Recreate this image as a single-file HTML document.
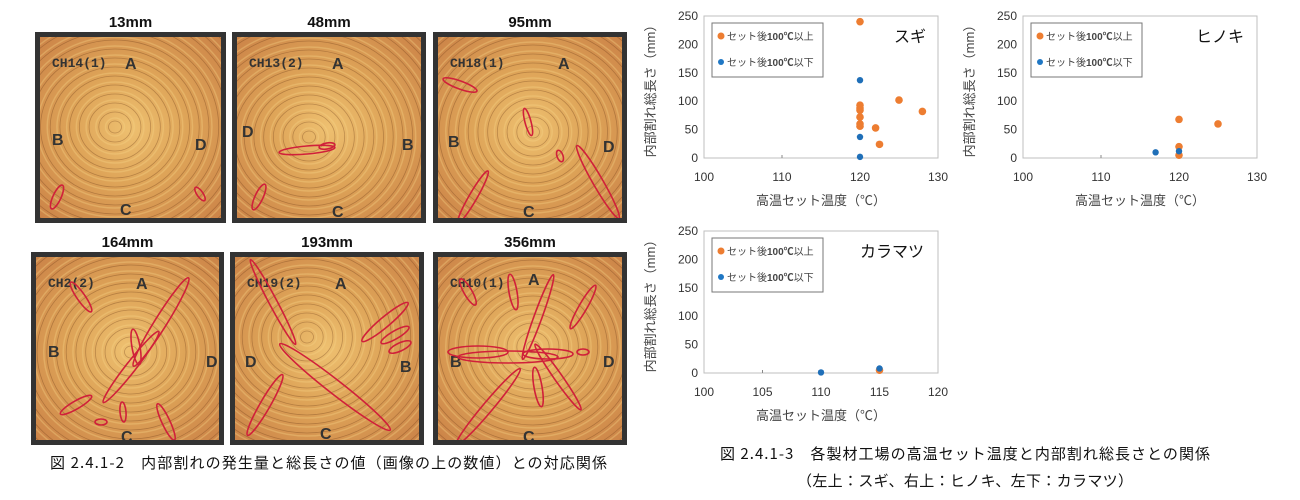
<!DOCTYPE html>
<html><head><meta charset="utf-8"><style>
html,body{margin:0;background:#fff;width:1300px;height:500px;overflow:hidden;font-family:"Liberation Sans","Noto Sans CJK JP",sans-serif}
svg{display:block}
</style></head><body>
<svg id="s" width="1300" height="500" viewBox="0 0 1300 500" xmlns="http://www.w3.org/2000/svg">
<defs>
<radialGradient id="wood" cx="50%" cy="50%" r="70%">
<stop offset="0" stop-color="#eec070"/><stop offset="0.45" stop-color="#dea458"/><stop offset="1" stop-color="#cc8448"/>
</radialGradient>
</defs>
<g id="g"></g>
<text x="50" y="468" font-size="15" textLength="557" lengthAdjust="spacing" fill="#111" font-family="Noto Sans CJK JP,sans-serif">図 2.4.1-2　内部割れの発生量と総長さの値（画像の上の数値）との対応関係</text>
<text x="720" y="459" font-size="15" textLength="490" lengthAdjust="spacing" fill="#111" font-family="Noto Sans CJK JP,sans-serif">図 2.4.1-3　各製材工場の高温セット温度と内部割れ総長さとの関係</text>
<text x="797" y="486" font-size="15" textLength="336" lengthAdjust="spacing" fill="#111" font-family="Noto Sans CJK JP,sans-serif">（左上：スギ、右上：ヒノキ、左下：カラマツ）</text>
</svg>
<script>
var g=document.getElementById('g'),h='';
function panel(x,y,w,h2,lab,cx,cy,code,letters,cracks){
 h+='<text x="'+(x+w/2)+'" y="'+(y-5)+'" font-size="15" font-weight="bold" text-anchor="middle" fill="#111">'+lab+'</text>';
 h+='<rect x="'+x+'" y="'+y+'" width="'+w+'" height="'+h2+'" fill="#333"/>';
 var ix=x+5,iy=y+5,iw=w-10,ih=h2-10;
 h+='<svg x="'+ix+'" y="'+iy+'" width="'+iw+'" height="'+ih+'"><rect width="'+iw+'" height="'+ih+'" fill="url(#wood)"/>';
 for(var r=6;r<260;r+=9){h+='<ellipse cx="'+cx+'" cy="'+cy+'" rx="'+(r*1.08)+'" ry="'+r+'" fill="none" stroke="#6a3a18" stroke-opacity="0.35" stroke-width="0.8"/>';
  h+='<ellipse cx="'+cx+'" cy="'+cy+'" rx="'+(r*1.08+3)+'" ry="'+(r+3)+'" fill="none" stroke="#f6d488" stroke-opacity="0.35" stroke-width="1.5"/>';}
 h+='<text x="12" y="30" font-size="13" fill="#333" font-family="Liberation Mono,monospace" font-weight="bold">'+code+'</text>';
 letters.forEach(function(l){h+='<text x="'+l[1]+'" y="'+l[2]+'" font-size="16" fill="#333" font-weight="bold">'+l[0]+'</text>';});
 cracks.forEach(function(c){h+='<ellipse cx="'+c[0]+'" cy="'+c[1]+'" rx="'+c[2]+'" ry="'+c[3]+'" transform="rotate('+c[4]+' '+c[0]+' '+c[1]+')" fill="none" stroke="#d0203a" stroke-width="1.6"/>';});
 h+='</svg>';
}
panel(35,32,191,191,'13mm',75,90,'CH14(1)',[['A',85,32],['B',12,108],['D',155,113],['C',80,178]],[[17,160,13,4,-65],[160,157,8,3,55]]);
panel(232,32,194,191,'48mm',72,100,'CH13(2)',[['A',95,32],['D',5,100],['B',165,113],['C',95,180]],[[70,113,28,4,-5],[90,109,8,3,-10],[22,160,14,4,-65]]);
panel(433,32,194,191,'95mm',95,95,'CH18(1)',[['A',120,32],['B',10,110],['D',165,115],['C',85,180]],[[22,48,18,4,20],[90,85,14,3,75],[35,160,30,4,-60],[160,145,42,5,60],[122,119,6,3,70]]);
panel(31,252,193,193,'164mm',95,95,'CH2(2)',[['A',100,32],['B',12,100],['D',170,110],['C',85,185]],[[45,40,18,4,55],[125,65,52,6,-58],[95,110,45,5,-52],[100,90,18,4,80],[40,148,18,4,-30],[130,165,20,4,65],[87,155,10,3,85],[65,165,6,3,0]]);
panel(230,252,194,193,'193mm',72,80,'CH19(2)',[['A',100,32],['D',10,110],['B',165,115],['C',85,182]],[[38,45,48,4,62],[100,130,70,7,38],[30,148,35,5,-60],[150,65,30,5,-40],[160,78,16,4,-30],[165,90,12,4,-25]]);
panel(433,252,194,193,'356mm',95,90,'CH10(1)',[['A',90,28],['B',12,110],['D',165,110],['C',85,185]],[[40,95,30,6,0],[70,100,50,6,0],[110,97,25,5,0],[100,60,45,4,-70],[120,120,40,4,55],[50,150,50,5,-50],[100,130,20,4,80],[145,50,25,4,-60],[30,35,15,4,60],[75,35,18,4,80],[145,95,6,3,0]]);

function chart(ox,oy,x0,x1,xt,orng,blue,name,nx){
 var L=ox,R=ox+234,T=oy+16,B=oy+158;
 function X(v){return L+(v-x0)/(x1-x0)*(R-L)}function Y(v){return B-v/250*(B-T)}
 h+='<rect x="'+L+'" y="'+T+'" width="'+(R-L)+'" height="'+(B-T)+'" fill="#fff" stroke="#bfbfbf" stroke-width="1"/>';
 h+='<line x1="'+X(xt[1])+'" y1="'+B+'" x2="'+X(xt[1])+'" y2="'+(B-3)+'" stroke="#888"/>';
 for(var v=0;v<=250;v+=50)h+='<text x="'+(L-6)+'" y="'+(Y(v)+4)+'" font-size="12" text-anchor="end" fill="#333">'+v+'</text>';
 xt.forEach(function(t){h+='<text x="'+X(t)+'" y="'+(oy+181)+'" font-size="12" text-anchor="middle" fill="#333">'+t+'</text>';});
 h+='<text x="'+((L+R)/2)+'" y="'+(oy+205)+'" font-size="13" text-anchor="middle" fill="#444">高温セット温度（℃）</text>';
 h+='<text transform="translate('+(ox-49)+','+(oy+88)+') rotate(-90)" font-size="13" text-anchor="middle" fill="#444">内部割れ総長さ（mm）</text>';
 h+='<rect x="'+(L+8)+'" y="'+(oy+23)+'" width="111" height="54" fill="#fff" stroke="#777"/>';
 h+='<circle cx="'+(L+17)+'" cy="'+(oy+36)+'" r="3.5" fill="#ed7d31"/><text x="'+(L+23)+'" y="'+(oy+40)+'" font-size="10" fill="#444">セット後<tspan font-weight="bold">100℃</tspan>以上</text>';
 h+='<circle cx="'+(L+17)+'" cy="'+(oy+62)+'" r="3" fill="#1f77c4"/><text x="'+(L+23)+'" y="'+(oy+66)+'" font-size="10" fill="#444">セット後<tspan font-weight="bold">100℃</tspan>以下</text>';
 h+='<text x="'+nx+'" y="'+(oy+42)+'" font-size="16" text-anchor="middle" fill="#111">'+name+'</text>';
 orng.forEach(function(p){h+='<circle cx="'+X(p[0])+'" cy="'+Y(p[1])+'" r="3.8" fill="#ed7d31"/>';});
 blue.forEach(function(p){h+='<circle cx="'+X(p[0])+'" cy="'+Y(p[1])+'" r="3.2" fill="#1f6fb8"/>';});
}
chart(704,0,100,130,[100,110,120,130],[[120,240],[120,93],[120,88],[120,84],[120,72],[120,60],[120,56],[122,53],[122.5,24],[125,102],[128,82]],[[120,137],[120,37],[120,2]],'スギ',910);
chart(1023,0,100,130,[100,110,120,130],[[120,68],[120,20],[120,5],[125,60]],[[117,10],[120,12]],'ヒノキ',1220);
chart(704,215,100,120,[100,105,110,115,120],[[115,5]],[[110,1],[115,8]],'カラマツ',892);
g.innerHTML=h;
</script>
</body></html>
